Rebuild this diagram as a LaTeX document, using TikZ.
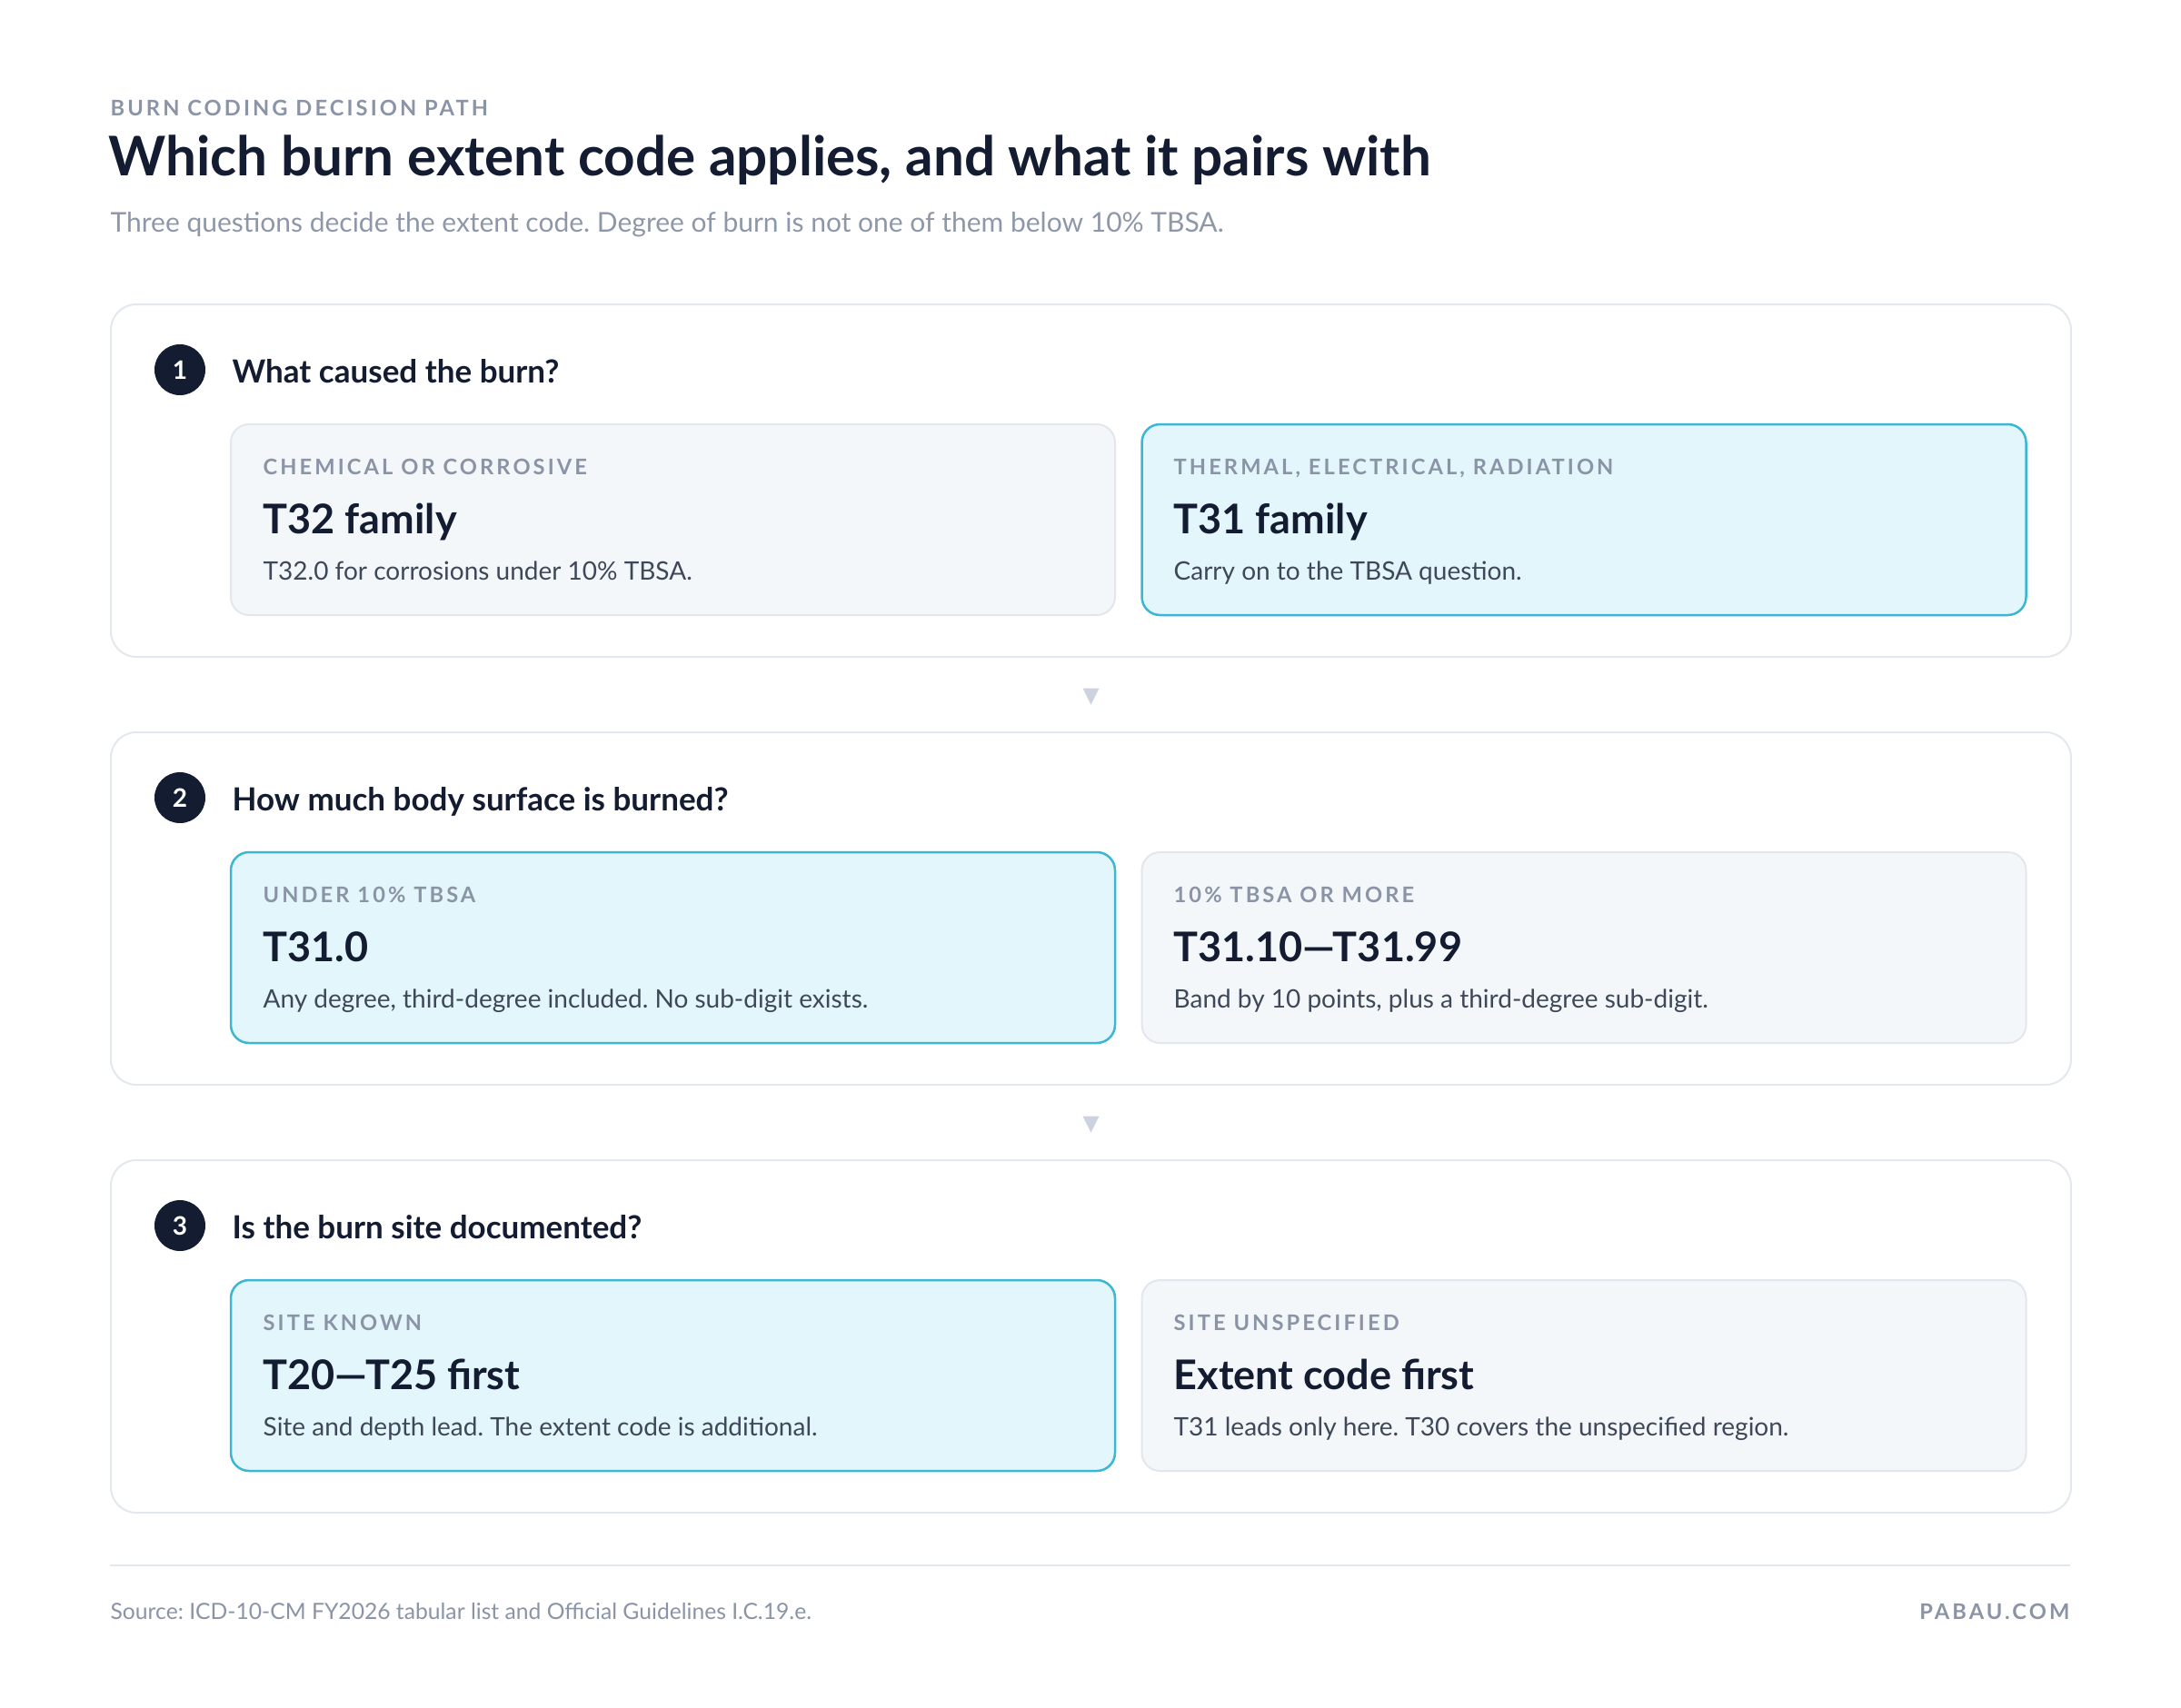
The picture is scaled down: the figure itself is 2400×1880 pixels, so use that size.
\documentclass[tikz,border=0pt]{standalone}
\usepackage{fontspec}
\setmainfont{Lato}
\newfontfamily\spacedfont[LetterSpace=13]{Lato}
\usetikzlibrary{calc}
\frenchspacing

\definecolor{ink}{HTML}{131C31}
\definecolor{kicker}{HTML}{8A94A6}
\definecolor{subgray}{HTML}{8E97A8}
\definecolor{descgray}{HTML}{3F4859}
\definecolor{panelline}{HTML}{E3E8EF}
\definecolor{cardfill}{HTML}{F4F7FA}
\definecolor{cardline}{HTML}{E2E7EE}
\definecolor{pickfill}{HTML}{E3F6FB}
\definecolor{pickline}{HTML}{3BB6D3}
\definecolor{markgray}{HTML}{CDD3DE}

\begin{document}
\begin{tikzpicture}[x=0.3pt,y=-0.3pt,
    panel/.style={draw=panelline, line width=0.6pt, fill=white, rounded corners=8.4pt,
        minimum width=647.1pt, minimum height=116.4pt, anchor=north west, inner sep=0pt},
    plain/.style={draw=cardline, fill=cardfill, line width=0.6pt, rounded corners=6pt,
        minimum width=291.9pt, minimum height=63pt, inner sep=0pt},
    picked/.style={plain, draw=pickline, fill=pickfill, line width=0.75pt},
    num/.style={circle, fill=ink, minimum size=16.8pt, inner sep=0pt, text=white,
        font=\fontsize{8.4}{10}\selectfont\bfseries},
    txt/.style={anchor=base west, inner sep=0pt},
    question/.style={txt, text=ink, font=\fontsize{10.5}{12}\selectfont\bfseries},
    lab/.style={txt, text=kicker, font=\spacedfont\fontsize{7.1}{9}\selectfont\bfseries},
    big/.style={txt, text=ink, font=\fontsize{13.5}{16}\selectfont\bfseries},
    desc/.style={txt, text=descgray, font=\fontsize{8.4}{10}\selectfont},
    marker/.style={fill=markgray}
]
\useasboundingbox (0,0) rectangle (2400,1880);

% heading
\node[txt, text=kicker, font=\spacedfont\fontsize{7.1}{9}\selectfont\bfseries] (kick) at (121,127) {BURN CODING DECISION PATH};
\node[txt, text=ink, font=\fontsize{18.05}{22}\selectfont\bfseries] (title) at (119,193) {Which burn extent code applies, and what it pairs with};
\node[txt, text=subgray, font=\fontsize{9}{11}\selectfont] (sub) at (121,255) {Three questions decide the extent code. Degree of burn is not one of them below 10\% TBSA.};

% step 1
\node[panel] (p1) at (121,334) {};
\node[num] (n1) at (198,407) {1};
\node[question] (q1) at (255,421) {What caused the burn?};
\node[plain] (c1a) at (740.5,572) {};
\node[picked] (c1b) at (1743,572) {};
\node[lab] (c1a-lab) at (289,522) {CHEMICAL OR CORROSIVE};
\node[big] (c1a-big) at (289,587) {T32 family};
\node[desc] (c1a-desc) at (289,638) {T32.0 for corrosions under 10\% TBSA.};
\node[lab] (c1b-lab) at (1291,522) {THERMAL, ELECTRICAL, RADIATION};
\node[big] (c1b-big) at (1291,587) {T31 family};
\node[desc] (c1b-desc) at (1291,638) {Carry on to the TBSA question.};

% step 2
\node[panel] (p2) at (121,805) {};
\node[num] (n2) at (198,878) {2};
\node[question] (q2) at (255,892) {How much body surface is burned?};
\node[picked] (c2a) at (740.5,1043) {};
\node[plain] (c2b) at (1743,1043) {};
\node[lab] (c2a-lab) at (289,993) {UNDER 10\% TBSA};
\node[big] (c2a-big) at (289,1058) {T31.0};
\node[desc] (c2a-desc) at (289,1109) {Any degree, third-degree included. No sub-digit exists.};
\node[lab] (c2b-lab) at (1291,993) {10\% TBSA OR MORE};
\node[big] (c2b-big) at (1291,1058) {T31.10—T31.99};
\node[desc] (c2b-desc) at (1291,1109) {Band by 10 points, plus a third-degree sub-digit.};

% step 3
\node[panel] (p3) at (121,1276) {};
\node[num] (n3) at (198,1349) {3};
\node[question] (q3) at (255,1363) {Is the burn site documented?};
\node[picked] (c3a) at (740.5,1514) {};
\node[plain] (c3b) at (1743,1514) {};
\node[lab] (c3a-lab) at (289,1464) {SITE KNOWN};
\node[big] (c3a-big) at (289,1529) {T20—T25 first};
\node[desc] (c3a-desc) at (289,1580) {Site and depth lead. The extent code is additional.};
\node[lab] (c3b-lab) at (1291,1464) {SITE UNSPECIFIED};
\node[big] (c3b-big) at (1291,1529) {Extent code first};
\node[desc] (c3b-desc) at (1291,1580) {T31 leads only here. T30 covers the unspecified region.};

% markers between steps
\fill[marker] ($(p1.south)!.5!(p2.north)$) ++(-9,-7) -- ++(18,0) -- ++(-9,18) -- cycle;
\fill[marker] ($(p2.south)!.5!(p3.north)$) ++(-9,-7) -- ++(18,0) -- ++(-9,18) -- cycle;

% footer
\draw[panelline, line width=0.6pt] (121,1723) -- (2278,1723);
\node[txt, text=kicker, font=\fontsize{7.4}{9}\selectfont] (src) at (121,1782) {Source: ICD-10-CM FY2026 tabular list and Official Guidelines I.C.19.e.};
\node[anchor=base east, inner sep=0pt, text=kicker, font=\spacedfont\fontsize{7.1}{9}\selectfont\bfseries] (brand) at (2278,1782) {PABAU.COM};
\end{tikzpicture}
\end{document}
